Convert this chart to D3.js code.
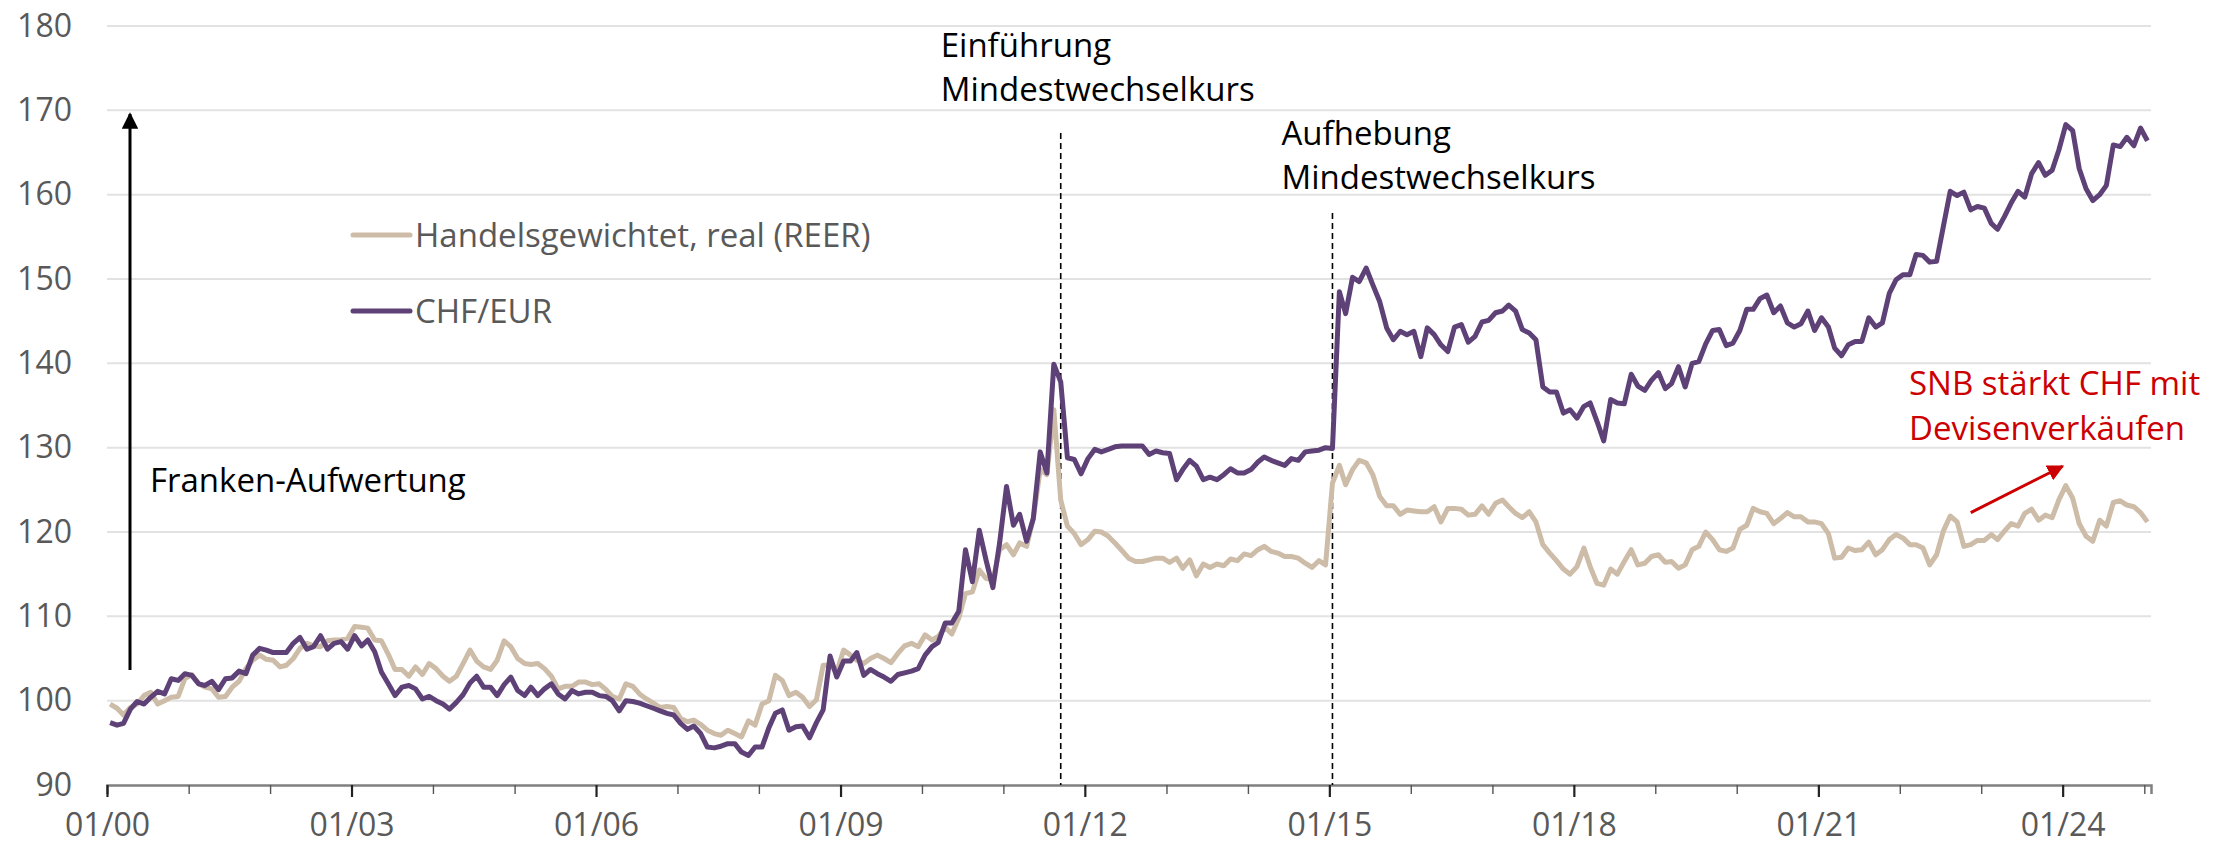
<!DOCTYPE html>
<html lang="de">
<head>
<meta charset="utf-8">
<title>Franken-Aufwertung</title>
<script src="https://cdn.jsdelivr.net/npm/d3@7/dist/d3.min.js"></script>
<style>
  body { margin: 0; background: #fff; }
  svg { display: block; font-family: "Open Sans", sans-serif; }
</style>
</head>
<body>
<svg id="chart" width="2234" height="847"></svg>
<script>
// monthly index values, Jan 2000 .. Jan 2025, one row per year
const reer = [
  [99.6, 99.1, 98.3, 99.2, 99.6, 100.6, 101.0, 99.6, 100.0, 100.4, 100.5, 102.6],
  [103.1, 102.0, 101.6, 101.4, 100.4, 100.5, 101.6, 102.3, 103.8, 104.8, 105.4, 104.9],
  [104.8, 104.0, 104.2, 105.0, 106.2, 106.8, 106.5, 106.4, 107.1, 107.2, 107.2, 107.4],
  [108.8, 108.7, 108.6, 107.2, 107.1, 105.5, 103.7, 103.7, 102.9, 104.0, 103.1, 104.4],
  [103.8, 102.9, 102.3, 102.9, 104.4, 106.0, 104.7, 104.0, 103.7, 104.8, 107.1, 106.4],
  [105.0, 104.4, 104.3, 104.4, 103.8, 102.9, 101.4, 101.7, 101.7, 102.2, 102.2, 101.9],
  [102.0, 101.3, 100.5, 100.2, 102.0, 101.7, 100.8, 100.2, 99.7, 99.2, 99.3, 99.2],
  [97.9, 97.5, 97.7, 97.2, 96.5, 96.1, 95.9, 96.5, 96.1, 95.7, 97.6, 97.1],
  [99.6, 100.0, 103.0, 102.4, 100.6, 101.0, 100.4, 99.3, 100.1, 104.2, 104.2, 103.4],
  [106.0, 105.4, 104.8, 104.4, 105.0, 105.4, 105.0, 104.5, 105.6, 106.5, 106.8, 106.4],
  [107.8, 107.2, 107.6, 108.7, 107.9, 109.8, 112.7, 112.9, 115.5, 114.5, 114.3, 117.9],
  [118.5, 117.3, 118.7, 118.3, 121.6, 127.4, 126.8, 134.5, 123.8, 120.7, 119.8, 118.5],
  [119.1, 120.1, 120.0, 119.5, 118.7, 117.8, 116.9, 116.5, 116.5, 116.7, 116.9, 116.9],
  [116.4, 116.9, 115.7, 116.7, 114.8, 116.2, 115.8, 116.2, 116.0, 116.8, 116.6, 117.4],
  [117.2, 117.9, 118.3, 117.7, 117.5, 117.1, 117.1, 116.9, 116.3, 115.8, 116.6, 116.1],
  [125.8, 127.9, 125.6, 127.4, 128.5, 128.2, 126.8, 124.2, 123.1, 123.1, 122.1, 122.6],
  [122.5, 122.4, 122.4, 123.0, 121.2, 122.8, 122.8, 122.7, 122.0, 122.1, 123.1, 122.1],
  [123.4, 123.8, 123.0, 122.2, 121.7, 122.4, 121.2, 118.5, 117.5, 116.6, 115.6, 115.0],
  [115.9, 118.1, 115.9, 113.9, 113.7, 115.6, 115.0, 116.5, 117.9, 116.1, 116.3, 117.1],
  [117.3, 116.4, 116.5, 115.7, 116.1, 117.9, 118.3, 120.0, 119.1, 117.9, 117.7, 118.1],
  [120.3, 120.8, 122.8, 122.4, 122.2, 121.0, 121.6, 122.3, 121.8, 121.8, 121.2, 121.2],
  [121.0, 119.8, 116.9, 117.0, 118.1, 117.8, 117.9, 118.8, 117.3, 117.9, 119.1, 119.7],
  [119.3, 118.5, 118.5, 118.1, 116.1, 117.3, 120.1, 121.9, 121.2, 118.3, 118.5, 119.0],
  [119.0, 119.7, 119.1, 120.1, 121.0, 120.7, 122.2, 122.7, 121.4, 122.0, 121.7, 123.8],
  [125.5, 124.0, 121.0, 119.5, 118.9, 121.4, 120.7, 123.5, 123.7, 123.2, 123.0, 122.3],
  [121.2]
];

const chfEur = [
  [97.4, 97.1, 97.3, 99.0, 99.9, 99.6, 100.4, 101.1, 100.8, 102.6, 102.4, 103.2],
  [103.0, 102.0, 101.8, 102.3, 101.3, 102.6, 102.7, 103.5, 103.2, 105.4, 106.2, 106.0],
  [105.7, 105.7, 105.7, 106.8, 107.5, 106.1, 106.4, 107.7, 106.1, 106.8, 107.0, 106.1],
  [107.7, 106.5, 107.2, 105.8, 103.4, 102.0, 100.6, 101.6, 101.8, 101.4, 100.2, 100.5],
  [100.0, 99.6, 99.0, 99.8, 100.7, 102.1, 102.9, 101.6, 101.6, 100.6, 101.9, 102.8],
  [101.2, 100.6, 101.6, 100.6, 101.4, 102.0, 100.8, 100.2, 101.2, 100.8, 101.0, 101.0],
  [100.6, 100.5, 100.0, 98.8, 100.0, 99.9, 99.7, 99.4, 99.1, 98.8, 98.5, 98.3],
  [97.3, 96.6, 97.0, 96.1, 94.5, 94.4, 94.6, 94.9, 94.9, 93.9, 93.5, 94.5],
  [94.5, 96.8, 98.5, 98.9, 96.5, 96.9, 97.0, 95.6, 97.4, 98.9, 105.3, 102.8],
  [104.7, 104.7, 105.7, 103.0, 103.7, 103.2, 102.8, 102.3, 103.1, 103.3, 103.5, 103.8],
  [105.4, 106.4, 106.9, 109.2, 109.2, 110.6, 117.9, 114.1, 120.2, 116.7, 113.4, 118.7],
  [125.4, 120.8, 122.1, 118.9, 121.6, 129.5, 127.0, 139.9, 137.8, 128.8, 128.6, 126.9],
  [128.7, 129.8, 129.5, 129.8, 130.1, 130.2, 130.2, 130.2, 130.2, 129.2, 129.6, 129.4],
  [129.3, 126.2, 127.4, 128.5, 127.8, 126.2, 126.5, 126.2, 126.8, 127.5, 127.0, 127.0],
  [127.4, 128.3, 128.9, 128.5, 128.2, 127.9, 128.7, 128.5, 129.5, 129.6, 129.7, 130.0],
  [129.9, 148.5, 145.9, 150.2, 149.7, 151.3, 149.3, 147.3, 144.2, 142.8, 143.8, 143.4],
  [143.8, 140.8, 144.2, 143.4, 142.2, 141.4, 144.3, 144.6, 142.5, 143.2, 144.9, 145.1],
  [146.0, 146.2, 146.9, 146.2, 144.0, 143.6, 142.8, 137.2, 136.6, 136.6, 134.1, 134.5],
  [133.5, 134.9, 135.3, 133.1, 130.8, 135.7, 135.3, 135.2, 138.7, 137.3, 136.8, 138.0],
  [138.9, 137.0, 137.6, 139.6, 137.2, 140.0, 140.2, 142.3, 143.9, 144.0, 142.1, 142.4],
  [143.9, 146.4, 146.4, 147.7, 148.1, 146.0, 146.8, 144.8, 144.3, 144.7, 146.2, 143.9],
  [145.4, 144.3, 141.8, 140.9, 142.2, 142.6, 142.6, 145.4, 144.3, 144.8, 148.3, 149.9],
  [150.5, 150.5, 152.9, 152.8, 152.0, 152.1, 156.2, 160.4, 159.9, 160.3, 158.2, 158.6],
  [158.4, 156.6, 155.9, 157.4, 159.0, 160.4, 159.7, 162.5, 163.8, 162.3, 162.9, 165.3],
  [168.3, 167.6, 163.1, 160.7, 159.3, 160.0, 161.1, 165.9, 165.7, 166.8, 165.8, 167.9],
  [166.4]
];

const firstYear = 2000;
const yTicks = [90, 100, 110, 120, 130, 140, 150, 160, 170, 180];
const tickYears = d3.range(2000, 2026);
const labelYears = [2000, 2003, 2006, 2009, 2012, 2015, 2018, 2021, 2024];

const seriesNames = ["Handelsgewichtet, real (REER)", "CHF/EUR"];
const colors = ["#cdbca8", "#5e4277"];
const red = "#cc0000";

// events marked with dashed lines
const events = [
  { date: new Date(2011, 8, 15), lines: ["Einführung", "Mindestwechselkurs"] },
  { date: new Date(2015, 0, 15), lines: ["Aufhebung", "Mindestwechselkurs"] }
];

const svg = d3.select("#chart");
const plotLeft = 107, plotRight = 2151, plotTop = 26, plotBottom = 785;

const x = d3.scaleTime()
  .domain([new Date(2000, 0, 1), new Date(2025, 0, 31)])
  .range([plotLeft, plotRight]);
const y = d3.scaleLinear().domain([90, 180]).range([plotBottom, plotTop]);

// rows of a year -> {date, value}, values sit mid-month
const toPoints = (rows) =>
  rows.flatMap((row, yi) =>
    row.map((v, m) => ({ date: new Date(firstYear + yi, m, 15), value: v })));

const series = [toPoints(reer), toPoints(chfEur)];

// gridlines
svg.append("g")
  .selectAll("line")
  .data(yTicks.filter((t) => t > 90))
  .join("line")
  .attr("x1", plotLeft)
  .attr("x2", plotRight)
  .attr("y1", (d) => y(d))
  .attr("y2", (d) => y(d))
  .attr("stroke", "#e2e2e2")
  .attr("stroke-width", 2);

// y axis labels only
const yAxis = svg.append("g")
  .attr("transform", `translate(${plotLeft},0)`)
  .call(d3.axisLeft(y).tickValues(yTicks).tickSize(0).tickPadding(35));
yAxis.select(".domain").remove();
yAxis.selectAll("text")
  .attr("font-family", "Open Sans")
  .attr("font-size", 32)
  .attr("fill", "#595959");

// x axis, labels every third year
const isLabel = (d) => labelYears.includes(d.getFullYear());
const xAxis = svg.append("g")
  .attr("transform", `translate(0,${plotBottom})`)
  .call(d3.axisBottom(x)
    .tickValues(tickYears.map((yr) => new Date(yr, 0, 1)))
    .tickSize(9)
    .tickPadding(19)
    .tickFormat((d) => (isLabel(d) ? d3.timeFormat("%m/%y")(d) : "")));
xAxis.select(".domain")
  .attr("stroke", "#808080")
  .attr("stroke-width", 2.5);
xAxis.selectAll(".tick line")
  .attr("stroke", (d) => (isLabel(d) ? "#222" : "#555"))
  .attr("stroke-width", (d) => (isLabel(d) ? 2.2 : 1.4))
  .attr("y2", (d) => (isLabel(d) ? 12 : 9));
xAxis.selectAll("text")
  .attr("font-family", "Open Sans")
  .attr("font-size", 32)
  .attr("fill", "#595959");

// dashed event lines + labels
const lineTops = [133, 213];
const labelOffsets = [{ dx: -120, y: 57 }, { dx: -51, y: 145 }];
events.forEach((ev, i) => {
  const ex = x(ev.date);
  svg.append("line")
    .attr("x1", ex).attr("x2", ex)
    .attr("y1", lineTops[i]).attr("y2", plotBottom)
    .attr("stroke", "#000")
    .attr("stroke-width", 1.6)
    .attr("stroke-dasharray", "6,4");
  svg.append("text")
    .attr("x", ex + labelOffsets[i].dx)
    .attr("y", labelOffsets[i].y)
    .attr("font-size", 33)
    .attr("fill", "#000")
    .selectAll("tspan")
    .data(ev.lines)
    .join("tspan")
    .attr("x", ex + labelOffsets[i].dx)
    .attr("dy", (d, j) => (j === 0 ? 0 : 44))
    .text((d) => d);
});

// the two series
const line = d3.line()
  .x((d) => x(d.date))
  .y((d) => y(d.value));

svg.append("g")
  .selectAll("path")
  .data(series)
  .join("path")
  .attr("d", line)
  .attr("fill", "none")
  .attr("stroke", (d, i) => colors[i])
  .attr("stroke-width", 5)
  .attr("stroke-linejoin", "round");

// legend
const legend = svg.append("g");
const legendRows = legend.selectAll("g")
  .data(seriesNames)
  .join("g")
  .attr("transform", (d, i) => `translate(353,${235 + i * 76})`);
legendRows.append("line")
  .attr("x1", 0).attr("x2", 57)
  .attr("stroke", (d, i) => colors[i])
  .attr("stroke-width", 5)
  .attr("stroke-linecap", "round");
legendRows.append("text")
  .attr("x", 62)
  .attr("dy", "0.35em")
  .attr("font-size", 33)
  .attr("fill", "#595959")
  .text((d) => d);

// arrow markers
const defs = svg.append("defs");
[["arrBlack", "#000"], ["arrRed", red]].forEach(([id, c]) => {
  defs.append("marker")
    .attr("id", id)
    .attr("viewBox", "0 0 10 10")
    .attr("refX", 9).attr("refY", 5)
    .attr("markerWidth", 5.5).attr("markerHeight", 5.5)
    .attr("markerUnits", "strokeWidth")
    .attr("orient", "auto")
    .append("path")
    .attr("d", "M0,0L10,5L0,10Z")
    .attr("fill", c);
});

// Franken-Aufwertung arrow
svg.append("line")
  .attr("x1", 130).attr("x2", 130)
  .attr("y1", 670).attr("y2", 114)
  .attr("stroke", "#000")
  .attr("stroke-width", 3)
  .attr("marker-end", "url(#arrBlack)");
svg.append("text")
  .attr("x", 150).attr("y", 492)
  .attr("font-size", 33)
  .attr("fill", "#000")
  .text("Franken-Aufwertung");

// SNB note
svg.append("line")
  .attr("x1", x(new Date(2022, 10, 15))).attr("y1", y(122.3))
  .attr("x2", x(new Date(2024, 0, 1))).attr("y2", y(127.8))
  .attr("stroke", red)
  .attr("stroke-width", 3)
  .attr("marker-end", "url(#arrRed)");
svg.append("text")
  .attr("font-size", 33)
  .attr("fill", red)
  .selectAll("tspan")
  .data(["SNB stärkt CHF mit", "Devisenverkäufen"])
  .join("tspan")
  .attr("x", 1909)
  .attr("y", (d, i) => 395 + i * 45)
  .text((d) => d);
</script>
</body>
</html>
